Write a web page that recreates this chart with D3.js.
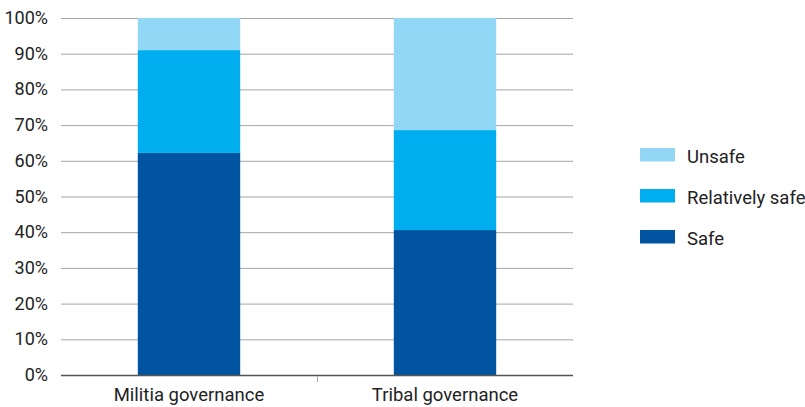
<!DOCTYPE html>
<html><head><meta charset="utf-8">
<script src="https://cdn.jsdelivr.net/npm/d3@7"></script>
<style>body{margin:0;background:#fff;} text{font-family:Roboto,"Liberation Sans",sans-serif;fill:#222;}</style>
</head><body><svg id="c" width="805" height="407"></svg>
<script>
const categories = ["Militia governance", "Tribal governance"];
const seriesNames = ["Safe", "Relatively safe", "Unsafe"];
const safe = [62.2, 40.6];
const relativelySafe = [28.8, 28.0];
const unsafe = [9.0, 31.4];
const yTicks = [0,10,20,30,40,50,60,70,80,90,100];
const colors = ["#0054a0", "#00adef", "#93d7f7"];

const svg = d3.select("#c");
const L = 61, R = 573, T = 18, B = 375;
const x = d3.scaleBand().domain(categories).range([L, R]).paddingInner(0.6).paddingOuter(0.3);
const y = d3.scaleLinear().domain([0, 100]).range([B, T]);

// gridlines
svg.append("g").selectAll("line").data(yTicks.filter(d=>d>0)).join("line")
  .attr("x1", L).attr("x2", R).attr("y1", d=>y(d)+0.5).attr("y2", d=>y(d)+0.5)
  .attr("stroke", "#a6a6a6").attr("stroke-width", 1);

// y labels
svg.append("g").selectAll("text").data(yTicks).join("text")
  .attr("x", 48).attr("y", d=>y(d)+6).attr("text-anchor", "end")
  .attr("font-size", 18).text(d=>d+"%");

const table = categories.map((c,i)=>({cat:c, Safe:safe[i], "Relatively safe":relativelySafe[i], Unsafe:unsafe[i]}));
const stacked = d3.stack().keys(seriesNames)(table);
svg.append("g").selectAll("g").data(stacked).join("g").attr("fill", (d,i)=>colors[i])
  .selectAll("rect").data(d=>d).join("rect")
  .attr("x", d=>x(d.data.cat)).attr("width", x.bandwidth())
  .attr("y", d=>y(d[1])).attr("height", d=>y(d[0])-y(d[1]));

// x axis
svg.append("line").attr("x1", L).attr("x2", R).attr("y1", B+0.5).attr("y2", B+0.5).attr("stroke", "#555").attr("stroke-width", 1.5);
svg.append("line").attr("x1", 317.5).attr("x2", 317.5).attr("y1", B+1).attr("y2", B+7).attr("stroke", "#aaa");
svg.append("g").selectAll("text").data(categories).join("text")
  .attr("x", d=>x(d)+x.bandwidth()/2).attr("y", 401).attr("text-anchor", "middle")
  .attr("font-size", 18.5).text(d=>d);

// legend
const legendOrder = [2,1,0];
const lg = svg.append("g").selectAll("g").data(legendOrder).join("g")
  .attr("transform", (d,i)=>`translate(640,${148 + i*41})`);
lg.append("rect").attr("width", 35).attr("height", 13.5).attr("fill", d=>colors[d]);
lg.append("text").attr("x", 47).attr("y", 14.5).attr("font-size", 18.5).text(d=>seriesNames[d]);
</script></body></html>
